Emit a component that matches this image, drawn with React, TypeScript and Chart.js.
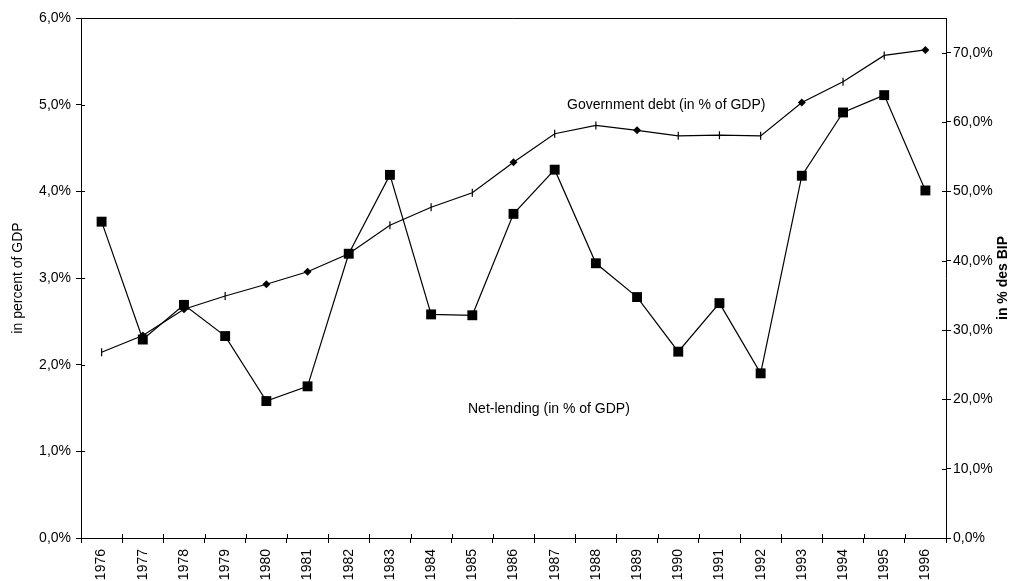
import React, { useEffect, useRef } from "react";
import { Chart, registerables } from "chart.js";

Chart.register(...registerables);

const years = [
  "1976", "1977", "1978", "1979", "1980", "1981", "1982", "1983", "1984", "1985", "1986",
  "1987", "1988", "1989", "1990", "1991", "1992", "1993", "1994", "1995", "1996",
];

// Net-lending, in percent of GDP (left axis)
const netLending = [
  3.65, 2.29, 2.69, 2.33, 1.58, 1.75, 3.28, 4.19, 2.58, 2.57, 3.74,
  4.25, 3.17, 2.78, 2.15, 2.71, 1.9, 4.18, 4.91, 5.11, 4.01,
];

// Government debt, in percent of GDP (right axis)
const govDebt = [
  26.8, 29.2, 33.0, 34.9, 36.6, 38.4, 41.0, 45.1, 47.7, 49.8, 54.2,
  58.3, 59.5, 58.8, 58.0, 58.1, 58.0, 62.8, 65.8, 69.6, 70.4,
];

// marker shape per debt point: diamond or small vertical tick
const debtMarkers = [
  "tick", "diamond", "diamond", "tick", "diamond", "diamond", "tick", "tick", "tick", "tick", "diamond",
  "tick", "tick", "diamond", "tick", "tick", "tick", "diamond", "tick", "tick", "diamond",
];

const leftTicks = [0, 1, 2, 3, 4, 5, 6];
const rightTicks = [0, 10, 20, 30, 40, 50, 60, 70];

const FONT = "'Liberation Sans', Arial, sans-serif";
const fmt = (v: number) => v.toFixed(1).replace(".", ",") + "%";

const framePlugin = {
  id: "frame",
  afterDraw(chart: any) {
    const { ctx, chartArea } = chart;
    const { left, right, top, bottom } = chartArea;
    ctx.save();
    ctx.strokeStyle = "#000";
    ctx.lineWidth = 1;
    ctx.beginPath();
    // top edge of the plot frame
    ctx.moveTo(left, top + 0.5);
    ctx.lineTo(right, top + 0.5);
    // inner halves of the crossing tick marks
    const yl = chart.scales.y;
    const yr = chart.scales.y1;
    yl.ticks.forEach((t: any) => {
      const p = Math.round(yl.getPixelForValue(t.value)) + 0.5;
      ctx.moveTo(left, p);
      ctx.lineTo(left + 4, p);
    });
    yr.ticks.forEach((t: any) => {
      const p = Math.round(yr.getPixelForValue(t.value)) + 0.5;
      ctx.moveTo(right, p);
      ctx.lineTo(right - 4, p);
    });
    const n = years.length;
    for (let i = 1; i < n; i++) {
      const p = Math.round(left + ((right - left) * i) / n) + 0.5;
      ctx.moveTo(p, bottom);
      ctx.lineTo(p, bottom - 4);
    }
    ctx.stroke();

    ctx.fillStyle = "#000";
    ctx.font = `14px ${FONT}`;
    ctx.textBaseline = "middle";
    ctx.textAlign = "left";
    ctx.fillText("Government debt (in % of GDP)", 567, 105);
    ctx.fillText("Net-lending (in % of GDP)", 468, 409);

    // axis titles
    const midY = (top + bottom) / 2;
    ctx.textAlign = "center";
    ctx.save();
    ctx.translate(18, midY);
    ctx.rotate(-Math.PI / 2);
    ctx.font = `14px ${FONT}`;
    ctx.fillText("in percent of GDP", 0, 0);
    ctx.restore();
    ctx.save();
    ctx.translate(1003, midY);
    ctx.rotate(-Math.PI / 2);
    ctx.font = `bold 14px ${FONT}`;
    ctx.fillText("in % des BIP", 0, 0);
    ctx.restore();
    ctx.restore();
  },
};

export default function App() {
  const ref = useRef<HTMLCanvasElement | null>(null);

  useEffect(() => {
    if (!ref.current) return;
    const chart = new Chart(ref.current, {
      type: "line",
      data: {
        labels: years,
        datasets: [
          {
            label: "Net-lending (in % of GDP)",
            data: netLending,
            yAxisID: "y",
            borderColor: "#000",
            backgroundColor: "#000",
            borderWidth: 1.2,
            pointStyle: "rect",
            pointRadius: 7,
            pointBorderWidth: 0,
            tension: 0,
          },
          {
            label: "Government debt (in % of GDP)",
            data: govDebt,
            yAxisID: "y1",
            borderColor: "#000",
            backgroundColor: "#000",
            borderWidth: 1.2,
            pointStyle: debtMarkers.map((m) => (m === "diamond" ? "rectRot" : "line")) as any,
            pointRotation: debtMarkers.map((m) => (m === "diamond" ? 0 : 90)),
            pointRadius: 4,
            pointBorderWidth: debtMarkers.map((m) => (m === "diamond" ? 0 : 1.2)),
            pointBorderColor: "#000",
            tension: 0,
          },
        ],
      },
      options: {
        responsive: false,
        animation: false,
        layout: { padding: { top: 18, left: 0, right: 0, bottom: 0 } },
        plugins: {
          legend: { display: false },
          tooltip: { enabled: false },
        },
        scales: {
          x: {
            type: "category",
            offset: true,
            grid: {
              offset: true,
              drawOnChartArea: false,
              tickLength: 5,
              color: "#000",
            },
            border: { display: true, color: "#000", width: 1 },
            ticks: {
              color: "#000",
              font: { family: FONT, size: 14 },
              minRotation: 90,
              maxRotation: 90,
              padding: 6,
              autoSkip: false,
            },
            afterFit: (s: any) => {
              s.height = 43;
            },
          },
          y: {
            position: "left",
            min: 0,
            max: 6,
            grid: { drawOnChartArea: false, tickLength: 5, color: "#000" },
            border: { display: true, color: "#000", width: 1 },
            afterBuildTicks: (s: any) => {
              s.ticks = leftTicks.map((v) => ({ value: v }));
            },
            ticks: {
              color: "#000",
              font: { family: FONT, size: 14 },
              padding: 5,
              callback: (v: any) => fmt(Number(v)),
            },
            afterFit: (s: any) => {
              s.width = 81;
            },
          },
          y1: {
            position: "right",
            min: 0,
            max: 75,
            grid: { drawOnChartArea: false, tickLength: 5, color: "#000" },
            border: { display: true, color: "#000", width: 1 },
            afterBuildTicks: (s: any) => {
              s.ticks = rightTicks.map((v) => ({ value: v }));
            },
            ticks: {
              color: "#000",
              font: { family: FONT, size: 14 },
              padding: 2,
              callback: (v: any) => fmt(Number(v)),
            },
            afterFit: (s: any) => {
              s.width = 74;
            },
          },
        },
      },
      plugins: [framePlugin],
    });
    return () => chart.destroy();
  }, []);

  return (
    <div style={{ position: "fixed", left: 0, top: 0, width: 1020, height: 581, background: "#fff" }}>
      <canvas ref={ref} width={1020} height={581} style={{ display: "block" }} />
    </div>
  );
}
